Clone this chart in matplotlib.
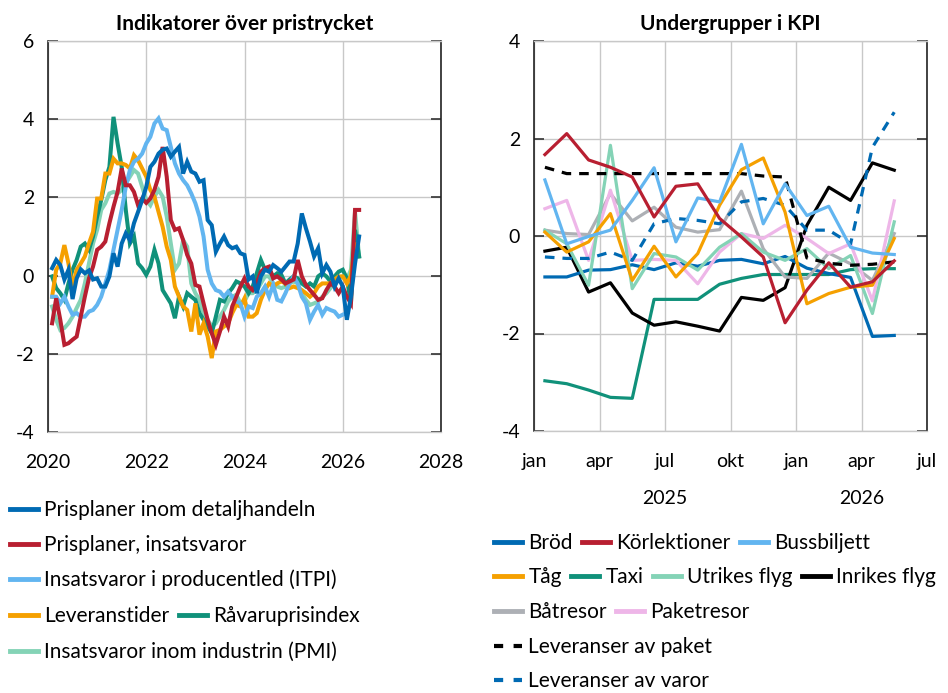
#!/usr/bin/env python3
"""Indikatorer över pristrycket / Undergrupper i KPI."""

import numpy as np
import pandas as pd
import matplotlib
matplotlib.use('Agg')
import matplotlib.pyplot as plt
from matplotlib.lines import Line2D
from matplotlib import transforms

plt.rcParams['font.family'] = ['Lato', 'DejaVu Sans']
plt.rcParams['axes.unicode_minus'] = False

# --- left panel: monthly, Feb 2020 - May 2026 ---
left_dates = pd.date_range('2020-02-01', periods=76, freq='MS')

prisplaner_detalj = [
    0.19, 0.4, 0.27, -0.1, 0.15, -0.6, -0.07, 0.16, 0.06, 0.13, -0.1, -0.07,
    -0.28, -0.28, -0.02, 0.57, 0.23, 0.82, 1.08, 0.91, 1.34, 1.63, 1.93, 2.27,
    2.78, 2.91, 3.12, 3.22, 3.25, 3.04, 3.17, 3.29, 2.61, 2.91, 2.66, 2.61,
    2.4, 2.44, 1.42, 1.29, 0.61, 0.82, 1.0, 0.78, 0.7, 0.74, 0.57, 0.53,
    -0.1, -0.02, -0.45, -0.02, 0.15, 0.1, 0.27, 0.19, 0.1, 0.23, 0.36, 0.36,
    0.82, 1.59, 1.21, 0.87, 0.49, 0.7, 0.06, 0.27, 0.1, -0.28, -0.07, -0.28,
    -1.13, -0.54, 0.31, 1.0]
prisplaner_insats = [
    -1.22, -0.58, -1.13, -1.77, -1.73, -1.64, -1.56, -1.05, -0.54, -0.07, 0.23, 0.66,
    0.74, 0.87, 1.34, 1.76, 2.14, 2.74, 2.31, 2.31, 2.14, 1.8, 1.97, 1.86,
    1.97, 2.19, 2.53, 3.29, 2.53, 1.42, 1.17, 1.21, 0.91, 0.53, 0.31, -0.24,
    -0.28, -0.71, -1.13, -1.47, -1.77, -1.43, -1.05, -1.3, -0.79, -0.54, -0.28, -0.07,
    -0.28, -0.37, -0.2, 0.1, 0.19, 0.23, -0.07, -0.02, -0.1, -0.2, -0.15, -0.1,
    0.4, -0.02, -0.24, -0.37, -0.49, -0.62, -0.58, -0.37, -0.2, -0.28, -0.45, -0.28,
    -0.54, -0.71, 1.68, 1.68]
itpi = [
    -0.54, -0.54, -0.71, -0.54, -0.79, -1.0, -0.96, -1.05, -1.05, -0.92, -0.88, -0.75,
    -0.54, -0.2, 0.15, 0.66, 1.17, 1.68, 2.27, 2.7, 2.91, 2.99, 3.12, 3.38,
    3.55, 3.89, 4.02, 3.76, 3.72, 3.29, 2.87, 2.61, 2.44, 2.31, 2.1, 1.85,
    1.51, 1.0, 0.15, -0.2, -0.37, -0.41, -0.54, -0.41, -0.54, -0.66, -0.71, -1.05,
    -0.79, -0.83, -0.54, -0.45, -0.28, -0.54, -0.24, -0.62, -0.66, -0.45, -0.2, -0.02,
    -0.2, -0.54, -0.71, -1.13, -0.92, -0.75, -1.0, -0.83, -0.88, -0.92, -1.05, -1.0]
leveranstider = [
    -0.54, 0.15, 0.31, 0.78, 0.31, -0.32, 0.15, 0.31, 0.49, 0.82, 1.12, 1.97,
    1.97, 2.61, 2.61, 2.99, 2.87, 2.87, 2.83, 2.74, 3.08, 2.95, 2.74, 2.53,
    2.19, 2.02, 1.63, 1.25, 0.74, 0.4, -0.28, -0.54, -0.79, -0.88, -1.43, -0.71,
    -1.51, -1.22, -1.56, -2.11, -1.43, -1.39, -1.3, -1.22, -0.96, -0.75, -0.79, -0.58,
    -1.05, -1.05, -0.96, -0.62, -0.37, -0.2, -0.28, -0.2, -0.15, -0.2, -0.32, -0.28,
    -0.32, -0.37, -0.45, -0.54, -0.45, -0.28, -0.2, -0.2, -0.2, -0.1, -0.02, -0.02,
    -0.2, 0.0, 0.8]
ravarupris = [
    -0.02, -0.32, -0.45, -0.62, -0.2, 0.15, 0.4, 0.74, 0.82, 0.66, 1.0, 1.51,
    1.93, 2.44, 2.78, 4.06, 3.38, 2.78, 1.68, 0.82, 1.0, 0.31, 0.19, 0.02,
    0.23, 0.66, 0.31, -0.37, -0.54, -0.71, -1.09, -0.54, -0.79, -0.45, -0.54, -0.62,
    -0.96, -1.13, -1.3, -1.47, -1.05, -0.62, -0.66, -0.45, -0.32, -0.15, -0.2, -0.28,
    -0.45, -0.28, 0.06, 0.4, 0.15, 0.15, -0.02, 0.06, 0.02, -0.2, -0.1, -0.02,
    -0.07, -0.2, -0.28, -0.2, -0.28, -0.02, 0.06, -0.02, -0.15, -0.02, 0.1, 0.15,
    -0.07, -0.71, 1.17, 0.49]
pmi = [
    -0.79, -1.13, -1.39, -1.34, -1.22, -1.05, -0.83, -0.62, -0.2, 0.31, 0.82, 1.17,
    1.68, 1.85, 2.1, 2.14, 2.1, 2.19, 2.36, 2.53, 2.7, 2.61, 2.27, 1.93,
    1.8, 2.02, 2.19, 2.02, 1.51, 0.82, 0.15, 0.31, 0.91, 0.74, -0.2, -0.45,
    -0.62, -0.96, -1.13, -1.3, -1.22, -1.05, -0.88, -0.66, -0.54, -0.49, -0.71, -0.66,
    -0.45, -0.45, -0.37, -0.2, -0.02, -0.02, -0.2, -0.28, -0.32, -0.28, -0.2, -0.15,
    -0.2, -0.45, -0.62, -0.75, -0.71, -0.66, -0.54, -0.45, -0.32, -0.2, -0.07, -0.02,
    -0.1, 0.15, 1.63, 0.49]

# --- right panel: monthly, Jan 2025 - May 2026 ---
right_months = ['2025-01', '2025-02', '2025-03', '2025-04', '2025-05', '2025-06',
                '2025-07', '2025-08', '2025-09', '2025-10', '2025-11', '2025-12',
                '2026-01', '2026-02', '2026-03', '2026-04', '2026-05']
brod = [-0.84, -0.84, -0.7, -0.69, -0.59, -0.69, -0.55, -0.62, -0.5, -0.48,
        -0.57, -0.42, -0.66, -0.77, -0.85, -2.06, -2.04]
korlektioner = [1.67, 2.1, 1.56, 1.41, 1.21, 0.39, 1.02, 1.07, 0.36, -0.02,
                -0.43, -1.78, -1.11, -0.55, -1.05, -0.94, -0.51]
bussbiljett = [1.15, -0.16, -0.01, 0.12, 0.73, 1.4, -0.12, 0.78, 0.7, 1.88,
               0.25, 1.07, 0.42, 0.61, -0.23, -0.35, -0.38]
tag = [0.08, -0.33, -0.12, 0.46, -0.91, -0.21, -0.84, -0.36, 0.63, 1.36,
       1.6, 0.49, -1.39, -1.18, -1.05, -1.01, -0.05]
taxi = [-2.97, -3.03, -3.16, -3.31, -3.33, -1.3, -1.3, -1.3, -0.99, -0.87,
        -0.79, -0.79, -0.79, -0.79, -0.69, -0.67, -0.67]
utrikes_flyg = [0.12, -0.16, -1.01, 1.86, -1.08, -0.36, -0.43, -0.7, -0.23, 0.05,
                -0.33, -0.5, -0.26, -0.67, -0.4, -1.59, 0.29]
inrikes_flyg = [-0.31, -0.23, -1.15, -0.96, -1.58, -1.83, -1.76, -1.85, -1.95, -1.26,
                -1.32, -1.06, 0.22, 1.0, 0.73, 1.5, 1.35]
batresor = [0.12, 0.05, 0.03, 0.87, 0.31, 0.59, 0.18, 0.08, 0.13, 0.92,
            -0.26, -0.84, -0.87, -0.35, -0.57, -0.91, 0.05]
paketresor = [0.56, 0.73, -0.5, 0.94, -0.5, -0.48, -0.5, -0.98, -0.33, 0.05,
              -0.05, 0.22, -0.05, -0.36, -0.16, -1.33, 0.72]
lev_paket = [1.41, 1.28, 1.28, 1.28, 1.28, 1.28, 1.28, 1.28, 1.28, 1.28,
             1.23, 1.21, -0.45, -0.56, -0.6, -0.58, -0.53]
lev_varor = [-0.43, -0.46, -0.46, -0.33, -0.5, 0.25, 0.36, 0.32, 0.25, 0.7,
             0.77, 0.63, 0.12, 0.12, -0.16, 1.82, 2.54]

month_ticks = ['jan', 'apr', 'jul', 'okt', 'jan', 'apr', 'jul']
year_labels = ['2025', '2026']

DBLUE = '#006AB3'
RED = '#B81F31'
LBLUE = '#62B5F0'
ORANGE = '#F5A000'
TEAL = '#10917A'
LTEAL = '#84D3B6'
GRAY = '#ADB0B5'
PINK = '#EEB6E8'
GRID = '#C8C8C8'

W, H = 948, 693
fig = plt.figure(figsize=(W / 100, H / 100), dpi=100)


def px_axes(x0, y0, x1, y1):
    return fig.add_axes([x0 / W, 1 - y1 / H, (x1 - x0) / W, (y1 - y0) / H])


def style_axes(ax):
    ax.grid(True, color=GRID, linewidth=1.0)
    ax.set_axisbelow(True)
    for side in ('top', 'bottom'):
        ax.spines[side].set_color(GRID)
        ax.spines[side].set_linewidth(1.0)
    for side in ('left', 'right'):
        ax.spines[side].set_color('#222222')
        ax.spines[side].set_linewidth(1.2)
    ax.tick_params(axis='y', direction='in', length=7, width=1.2,
                   left=True, right=True, labelsize=14, pad=10, color='#333333')
    ax.tick_params(axis='x', length=0, labelsize=14, pad=16)


# left panel
ax1 = px_axes(48, 41, 441, 432)
x_left = left_dates.year + (left_dates.month - 1) / 12
series_left = [
    (prisplaner_detalj, DBLUE, 'Prisplaner inom detaljhandeln'),
    (prisplaner_insats, RED, 'Prisplaner, insatsvaror'),
    (itpi, LBLUE, 'Insatsvaror i producentled (ITPI)'),
    (leveranstider, ORANGE, 'Leveranstider'),
    (ravarupris, TEAL, 'Råvaruprisindex'),
    (pmi, LTEAL, 'Insatsvaror inom industrin (PMI)'),
]
for vals, col, lab in reversed(series_left):
    ax1.plot(x_left[:len(vals)], vals, color=col, linewidth=2.9,
             solid_joinstyle='miter')
ax1.set_xlim(2020, 2028)
ax1.set_ylim(-4, 6)
ax1.set_xticks([2020, 2022, 2024, 2026, 2028])
ax1.set_yticks([-4, -2, 0, 2, 4, 6])
style_axes(ax1)
ax1.set_title('Indikatorer över pristrycket', fontsize=15, fontweight='bold', pad=8)

# right panel
ax2 = px_axes(534, 41, 927, 431)
rdates = pd.to_datetime(right_months)
x_right = (rdates.year - 2025) * 12 + rdates.month - 1 + 0.5
series_right = [
    (taxi, TEAL, '-', 'Taxi'),
    (inrikes_flyg, 'black', '-', 'Inrikes flyg'),
    (brod, DBLUE, '-', 'Bröd'),
    (batresor, GRAY, '-', 'Båtresor'),
    (paketresor, PINK, '-', 'Paketresor'),
    (utrikes_flyg, LTEAL, '-', 'Utrikes flyg'),
    (lev_varor, DBLUE, '--', 'Leveranser av varor'),
    (lev_paket, 'black', '--', 'Leveranser av paket'),
    (tag, ORANGE, '-', 'Tåg'),
    (bussbiljett, LBLUE, '-', 'Bussbiljett'),
    (korlektioner, RED, '-', 'Körlektioner'),
]
for vals, col, ls, lab in series_right:
    ax2.plot(x_right, vals, color=col, linewidth=2.3, linestyle=ls,
             dashes=(3, 2.5) if ls == '--' else (None, None))
ax2.set_xlim(0, 18)
ax2.set_ylim(-4, 4)
ax2.set_xticks(np.arange(0, 19, 3))
ax2.set_xticklabels(month_ticks)
ax2.set_yticks([-4, -2, 0, 2, 4])
style_axes(ax2)
ax2.set_title('Undergrupper i KPI', fontsize=15, fontweight='bold', pad=8)
trans = transforms.blended_transform_factory(ax2.transData, fig.transFigure)
for xpos, lab in zip([6, 15], year_labels):
    fig.text(xpos, 1 - 498 / H, lab, transform=trans, ha='center', va='center',
             fontsize=14)


# legends, one row at a time
def legend_row(entries, x, y):
    handles = []
    for col, ls in [(c, l) for c, l, _ in entries]:
        if ls == '--':
            handles.append(Line2D([], [], color=col, linewidth=3, linestyle=(0, (2.2, 2.5))))
        else:
            handles.append(Line2D([], [], color=col, linewidth=3.5))
    leg = fig.legend(handles, [e[2] for e in entries], ncol=len(entries),
                     loc='center left', bbox_to_anchor=(x / W, 1 - y / H),
                     frameon=False, fontsize=15, handlelength=1.35,
                     handletextpad=0.3, columnspacing=0.45, borderpad=0,
                     borderaxespad=0)
    return leg


legend_row([(DBLUE, '-', 'Prisplaner inom detaljhandeln')], 10, 510)
legend_row([(RED, '-', 'Prisplaner, insatsvaror')], 10, 545)
legend_row([(LBLUE, '-', 'Insatsvaror i producentled (ITPI)')], 10, 580)
legend_row([(ORANGE, '-', 'Leveranstider'), (TEAL, '-', 'Råvaruprisindex')], 10, 616)
legend_row([(LTEAL, '-', 'Insatsvaror inom industrin (PMI)')], 10, 652)

legend_row([(DBLUE, '-', 'Bröd'), (RED, '-', 'Körlektioner'),
            (LBLUE, '-', 'Bussbiljett')], 494, 543)
legend_row([(ORANGE, '-', 'Tåg'), (TEAL, '-', 'Taxi'),
            (LTEAL, '-', 'Utrikes flyg'), ('black', '-', 'Inrikes flyg')], 494, 577)
legend_row([(GRAY, '-', 'Båtresor'), (PINK, '-', 'Paketresor')], 494, 612)
legend_row([('black', '--', 'Leveranser av paket')], 494, 647)
legend_row([(DBLUE, '--', 'Leveranser av varor')], 494, 681)

fig.savefig('out.png', dpi=100)
